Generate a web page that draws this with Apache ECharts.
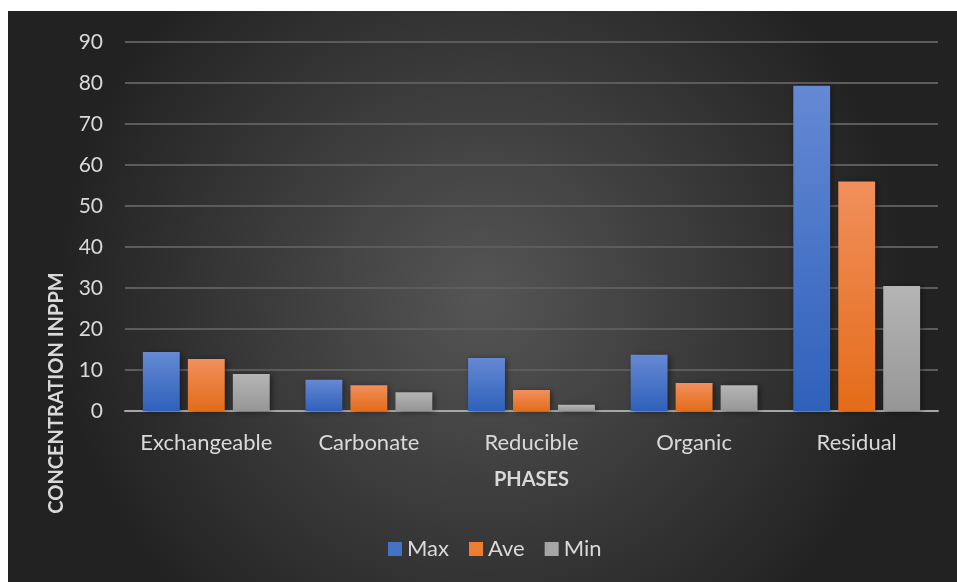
<!DOCTYPE html>
<html>
<head>
<meta charset="utf-8">
<script src="https://cdn.jsdelivr.net/npm/echarts@6/dist/echarts.min.js"></script>
<style>
html,body{margin:0;padding:0;background:#fff;width:957px;height:582px;overflow:hidden;}
#c{position:absolute;left:8px;top:11px;width:949px;height:571px;}
</style>
</head>
<body>
<div id="c"></div>
<script>
var categories = ['Exchangeable', 'Carbonate', 'Reducible', 'Organic', 'Residual'];
var maxValues = [14.4, 7.6, 12.9, 13.7, 79.3];
var aveValues = [12.7, 6.3, 5.1, 6.8, 56.0];
var minValues = [9.0, 4.6, 1.5, 6.3, 30.5];
var seriesNames = ['Max', 'Ave', 'Min'];
var yTicks = [0, 10, 20, 30, 40, 50, 60, 70, 80, 90];

var FONT = 'Lato, "Open Sans", sans-serif';
function grad(top, bottom) {
  return new echarts.graphic.LinearGradient(0, 0, 0, 1, [
    {offset: 0, color: top}, {offset: 1, color: bottom}
  ]);
}
var colors = [grad('#6589d4', '#2f61ba'), grad('#f18f5c', '#e46c19'), grad('#b5b5b5', '#969696')];
var legendColors = ['#4472c4', '#ed7d31', '#a5a5a5'];
var data = [maxValues, aveValues, minValues];

var chart = echarts.init(document.getElementById('c'), null, {renderer: 'canvas'});
chart.setOption({
  animation: false,
  backgroundColor: {
    type: 'radial', x: 0.5, y: 0.5, r: 0.75,
    colorStops: [{offset: 0, color: '#555555'}, {offset: 1, color: '#222222'}]
  },
  color: legendColors,
  grid: {left: 117, right: 19, top: 31, bottom: 171, containLabel: false},
  legend: {
    data: seriesNames.map(function (n, i) { return {name: n, itemStyle: {color: legendColors[i]}}; }),
    top: 522, left: 375,
    itemWidth: 14, itemHeight: 14, itemGap: 20, icon: 'rect',
    textStyle: {color: '#d9d9d9', fontSize: 22, fontFamily: FONT}
  },
  xAxis: {
    type: 'category', data: categories,
    name: 'PHASES', nameLocation: 'middle', nameGap: 59,
    nameTextStyle: {color: '#d9d9d9', fontSize: 20, fontWeight: 'bold', fontFamily: FONT},
    axisLine: {lineStyle: {color: '#a6a6a6', width: 2}},
    axisTick: {show: false},
    axisLabel: {color: '#d9d9d9', fontSize: 22, margin: 21, fontFamily: FONT, interval: 0, hideOverlap: false}
  },
  yAxis: {
    type: 'value', min: 0, max: 90, interval: 10,
    axisLine: {show: false}, axisTick: {show: false},
    axisLabel: {color: '#d9d9d9', fontSize: 21, margin: 22, fontFamily: FONT,
      formatter: function (v) { return yTicks.indexOf(v) >= 0 ? String(v) : ''; }},
    splitLine: {lineStyle: {color: '#5c5c5c', width: 2}}
  },
  graphic: [{
    type: 'text',
    x: 49, y: 382,
    rotation: Math.PI / 2,
    style: {text: 'CONCENTRATION INPPM', fill: '#d9d9d9', font: 'bold 20px ' + FONT,
      textAlign: 'center', textVerticalAlign: 'middle'}
  }],
  series: seriesNames.map(function (n, i) {
    return {
      name: n, type: 'bar', data: data[i],
      barGap: '22%', barCategoryGap: '22%',
      itemStyle: {color: colors[i], shadowBlur: 6, shadowColor: 'rgba(0,0,0,0.45)', shadowOffsetX: 2, shadowOffsetY: 1}
    };
  })
});
</script>
</body>
</html>
